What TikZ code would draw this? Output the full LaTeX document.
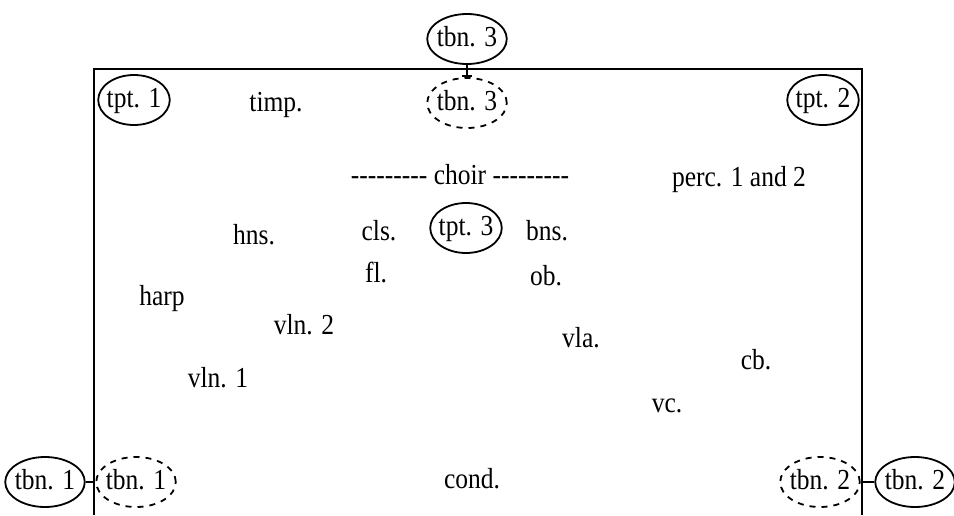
\documentclass[tikz,border=0pt]{standalone}
\usepackage{fontspec}
\setmainfont{Liberation Serif}[FakeStretch=0.88]
\usetikzlibrary{arrows.meta, shapes.geometric}

\tikzset{
    player/.style={font=\fontsize{14.5}{17}\selectfont, inner sep=0pt,
        text height=0.85em, text depth=0.15em},
    solo/.style={player, ellipse, draw, line width=0.9pt, inner xsep=-1pt,
        minimum height=25pt},
    offstage/.style={solo, dashed},
    link/.style={line width=0.9pt, -{Bar[width=5pt, line width=0.9pt]}}
}

\begin{document}
\begin{tikzpicture}[x=0.5pt, y=-0.5pt]
    \useasboundingbox (0,0) rectangle (954,515);

    % Stage walls
    \draw[line width=1pt] (94,515) -- (94,69) -- (862,69) -- (862,515);

    % Brass in ellipses
    \node[solo] (tbnC) at (467,39) {tbn. 3};
    \node[offstage] (tbnCin) at (467,103) {tbn. 3};
    \node[solo] (tptA) at (134,100) {tpt. 1};
    \node[solo] (tptB) at (823,100) {tpt. 2};
    \node[solo] (tptC) at (466,228) {tpt. 3};
    \node[solo] (tbnA) at (45,482) {tbn. 1};
    \node[offstage] (tbnAin) at (136,482) {tbn. 1};
    \node[offstage] (tbnBin) at (820,482) {tbn. 2};
    \node[solo] (tbnB) at (915,482) {tbn. 2};

    % Orchestra
    \node[player] (timp) at (276,104) {timp.};
    \node[player] (choir) at (460,177) {-{}-{}-{}-{}-{}-{}-{}-{}-{} choir -{}-{}-{}-{}-{}-{}-{}-{}-{}};
    \node[player] (perc) at (739,179) {perc. 1 and 2};
    \node[player] (hns) at (254,237) {hns.};
    \node[player] (cls) at (379,233) {cls.};
    \node[player] (bns) at (547,233) {bns.};
    \node[player] (fl) at (376,275) {fl.};
    \node[player] (ob) at (546,278) {ob.};
    \node[player] (harp) at (162,298) {harp};
    \node[player] (vlnB) at (304,327) {vln. 2};
    \node[player] (vla) at (581,340) {vla.};
    \node[player] (cb) at (756,362) {cb.};
    \node[player] (vlnA) at (218,380) {vln. 1};
    \node[player] (vc) at (667,405) {vc.};
    \node[player] (cond) at (472,481) {cond.};

    % Moves
    \draw[link] (tbnC) -- (tbnCin);
    \draw[link] (tbnA) -- (tbnAin);
    \draw[link] (tbnB) -- (tbnBin);
\end{tikzpicture}
\end{document}
